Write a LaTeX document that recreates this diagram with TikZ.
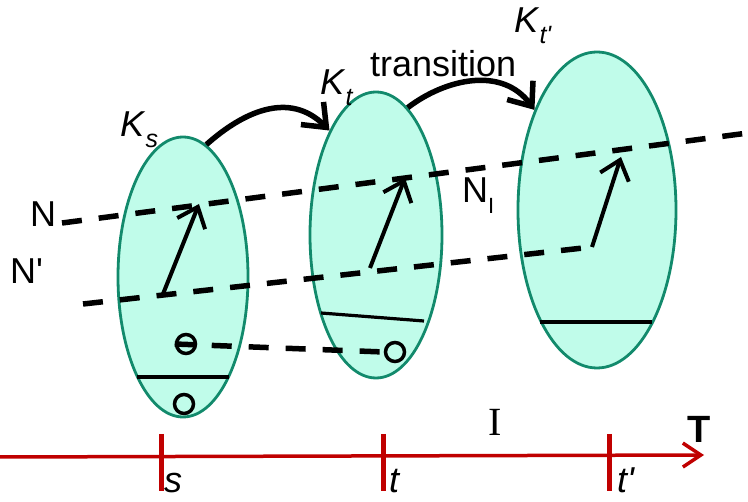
\documentclass[tikz,border=0pt]{standalone}
\usepackage{fontspec}
\setmainfont{Liberation Sans}
\newfontfamily\seriffont{Liberation Serif}
\usetikzlibrary{shapes.geometric,arrows.meta}
\definecolor{mint}{RGB}{192,252,234}
\definecolor{sea}{RGB}{18,138,108}
\definecolor{axisred}{RGB}{192,0,0}
\newcommand{\Klabel}[1]{\textit{K}\raisebox{-0.28em}{\fontsize{25}{25}\selectfont\itshape #1}}

\begin{document}
\begin{tikzpicture}[
  x=1pt, y=-1pt,
  every node/.style={inner sep=0pt, font=\fontsize{36}{40}\selectfont},
  ell/.style={ellipse, draw=sea, fill=mint, line width=2.8pt},
  dot/.style={circle, draw, line width=3.5pt, minimum size=19pt},
  dline/.style={line width=5.5pt, dash pattern=on 20pt off 17pt},
  vec/.style={line width=4pt, -{Straight Barb[length=18pt, width=30pt, line width=4pt]}},
  trans/.style={line width=5.5pt, -{Straight Barb[length=20pt, width=32pt, line width=5.5pt]}},
  axis/.style={axisred, line width=3.5pt, -{Straight Barb[length=18pt, width=24pt, line width=3.5pt]}},
  tickmark/.style={axisred, line width=5pt}
]
\useasboundingbox (0,0) rectangle (748,502);

% ── the three states along the time line ────────────────────────────
\node[ell, minimum width=130pt, minimum height=280pt] (Ks)  at (183,277) {};
\node[ell, minimum width=132pt, minimum height=286pt] (Kt)  at (376,235) {};
\node[ell, minimum width=158pt, minimum height=316pt] (Ktp) at (597,210) {};

\node[anchor=base west] (lKs)  at (120,137) {\Klabel{s}};
\node[anchor=base west] (lKt)  at (320,95)  {\Klabel{t}};
\node[anchor=base west] (lKtp) at (514,33)  {\Klabel{t\textquotesingle}};

% ── transitions ─────────────────────────────────────────────────────
\draw[trans] (Ks.80) .. controls +(37,-33) and +(-40,-40) .. (Kt.114);
\draw[trans] (Kt.76) .. controls +(38,-29) and +(-32,-44) .. (Ktp.122);
\node[anchor=base west] (ltr) at (370,77) {transition};

% ── the two lines N and N' ──────────────────────────────────────────
\coordinate (N0)  at (62,223);
\coordinate (N1)  at (748,133);
\coordinate (Np0) at (83,304);
\coordinate (Np1) at (592,247);
\draw[dline] (N0) -- (N1);
\draw[dline] (Np0) -- (Np1);
\node[anchor=base west] (lN)  at (30,227) {N};
\node[anchor=base west] (lNp) at (10,284) {N\textquotesingle};
\node[anchor=base west] (lNI) at (462,203)
  {N\raisebox{-0.28em}{\fontsize{22}{22}\selectfont I}};

% vectors from N' up to N
\coordinate (a1) at (163,294);
\coordinate (b1) at (199,204);
\coordinate (a2) at (370,268);
\coordinate (b2) at (405,178);
\coordinate (b3) at (621,157);
\draw[vec] (a1) -- (b1);
\draw[vec] (a2) -- (b2);
\draw[vec] (Np1) -- (b3);

% ── inner parts of the states ───────────────────────────────────────
\draw[line width=3.2pt] (137,377) -- (229,377);
\draw[line width=3.2pt] (321,313) -- (424,321);
\draw[line width=3.2pt] (540,322) -- (652,322);
\node[dot] (c1) at (186,344) {};
\node[dot] (c2) at (184,404) {};
\node[dot] (c3) at (395,352) {};
\draw[dline] (c1.west) -- (c3.west);

% ── time axis ───────────────────────────────────────────────────────
\coordinate (T0) at (0,457);
\coordinate (T1) at (704,455);
\draw[axis] (T0) -- (T1);
\foreach \x in {161,383,609}
  \draw[tickmark] (\x,434) -- (\x,491);
\node[anchor=base west] (ls)  at (164,493) {\textit{s}};
\node[anchor=base west] (lt)  at (389,493) {\textit{t}};
\node[anchor=base west] (ltp) at (617,493) {\textit{t\textquotesingle}};
\node[anchor=base west, font=\fontsize{40}{40}\selectfont\seriffont] (lI) at (488,436) {I};
\node[anchor=base west, font=\fontsize{38}{40}\selectfont\bfseries] (lT) at (687,443) {T};

\end{tikzpicture}
\end{document}
